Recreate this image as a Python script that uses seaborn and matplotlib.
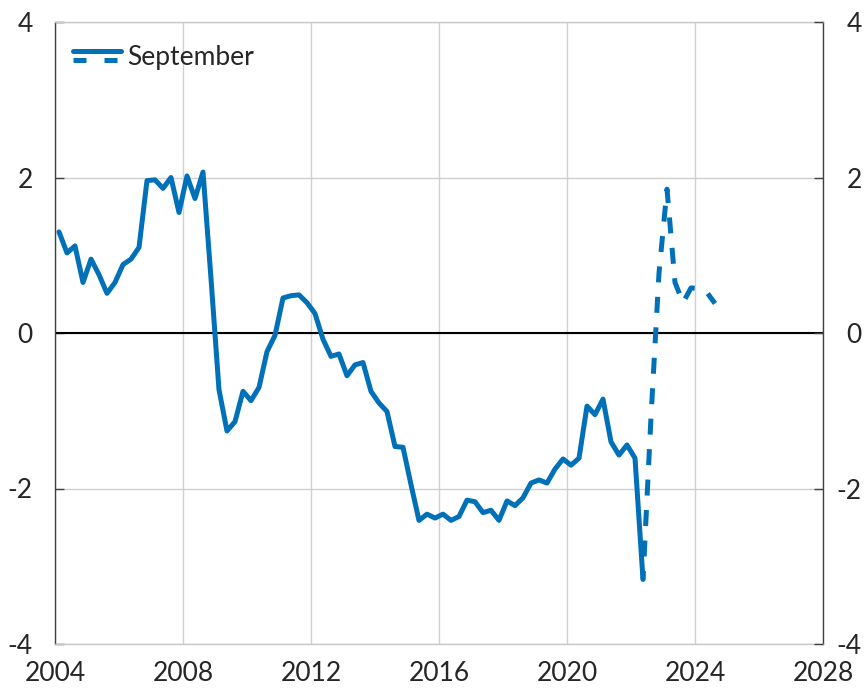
import pandas as pd
import seaborn as sns
import matplotlib.pyplot as plt
from matplotlib.lines import Line2D
from matplotlib.legend_handler import HandlerBase

# Quarterly history, 2004Q1 - 2022Q2
history = [1.30, 1.03, 1.12, 0.65, 0.95, 0.75, 0.51, 0.65, 0.88, 0.95,
           1.10, 1.96, 1.97, 1.86, 2.00, 1.55, 2.02, 1.73, 2.07, 0.70,
           -0.73, -1.26, -1.14, -0.75, -0.87, -0.70, -0.24, -0.03, 0.45, 0.48,
           0.49, 0.39, 0.25, -0.08, -0.30, -0.27, -0.55, -0.41, -0.38, -0.75,
           -0.90, -1.01, -1.46, -1.47, -1.95, -2.41, -2.33, -2.38, -2.33, -2.41,
           -2.36, -2.15, -2.17, -2.31, -2.28, -2.41, -2.16, -2.22, -2.12, -1.93,
           -1.89, -1.93, -1.75, -1.62, -1.70, -1.61, -0.94, -1.05, -0.85, -1.40,
           -1.57, -1.44, -1.61, -3.17]
# Projection, 2022Q2 - 2024Q3
projection = [-3.17, -1.08, 0.77, 1.85, 0.65, 0.39, 0.58, 0.57, 0.52, 0.38]

hist_start = 2004
proj_start = 2022 + 1 / 4  # 2022Q2

x_ticks = [2004, 2008, 2012, 2016, 2020, 2024, 2028]
y_ticks = [-4, -2, 0, 2, 4]
label = "September"

blue = "#0070B8"
fs = 19

df_hist = pd.DataFrame({"year": [hist_start + (i + 0.5) / 4 for i in range(len(history))],
                        "value": history})
df_proj = pd.DataFrame({"year": [proj_start + (i + 0.5) / 4 for i in range(len(projection))],
                        "value": projection})

sns.set_style("white")
plt.rcParams['font.family'] = ['Lato', 'DejaVu Sans']
plt.rcParams['axes.unicode_minus'] = False

fig = plt.figure(figsize=(8.64, 6.91), dpi=100)
ax = fig.add_axes([55 / 864, 1 - 644 / 691, 768 / 864, 622 / 691])

ax.grid(True, color="#d0d0d0", lw=1)
ax.axhline(0, color="black", lw=1.5, zorder=2)

sns.lineplot(data=df_hist, x="year", y="value", ax=ax, color=blue, lw=3.6, zorder=3)
sns.lineplot(data=df_proj, x="year", y="value", ax=ax, color=blue, lw=3.6, zorder=3)
ax.lines[-1].set_linestyle((1.5, (3.2, 2.9)))

ax.set_xlim(2004, 2028)
ax.set_ylim(-4, 4)
ax.set_xticks(x_ticks)
ax.set_yticks(y_ticks)
ax.set_xlabel("")
ax.set_ylabel("")
ax.tick_params(axis="y", direction="in", length=6.5, width=1, color="#404040",
               labelsize=fs, pad=16)
ax.tick_params(axis="x", length=0, labelsize=fs, pad=12.5)

for side in ["top", "bottom"]:
    ax.spines[side].set_color("#c8c8c8")
    ax.spines[side].set_linewidth(1)
for side in ["left", "right"]:
    ax.spines[side].set_color("#404040")
    ax.spines[side].set_linewidth(1)

ax2 = ax.twinx()
ax2.set_ylim(-4, 4)
ax2.set_yticks(y_ticks)
ax2.tick_params(axis="y", direction="in", length=6.5, width=1, color="#404040",
                labelsize=fs, pad=28)
for t in ax2.get_yticklabels():
    t.set_horizontalalignment("right")
for s in ax2.spines.values():
    s.set_visible(False)


class StackedHandler(HandlerBase):
    def create_artists(self, legend, orig_handle, xdescent, ydescent,
                       width, height, fontsize, trans):
        mid = height / 2 - ydescent
        off = 0.17 * fontsize
        top = Line2D([-xdescent, width - xdescent], [mid + off] * 2,
                     color=blue, lw=3.6, transform=trans)
        bot = Line2D([-xdescent, width - xdescent], [mid - off] * 2,
                     color=blue, lw=3.6, ls=(0, (2.6, 3.6)), transform=trans)
        return [top, bot]


handle = Line2D([], [], color=blue)
ax.legend([handle], [label], handler_map={Line2D: StackedHandler()},
          loc="upper left", frameon=False, fontsize=fs,
          handlelength=1.8, handletextpad=0.27, borderpad=0, borderaxespad=0,
          bbox_to_anchor=(18 / 768, 1 - 23 / 622))

fig.savefig("out.png", dpi=100)
